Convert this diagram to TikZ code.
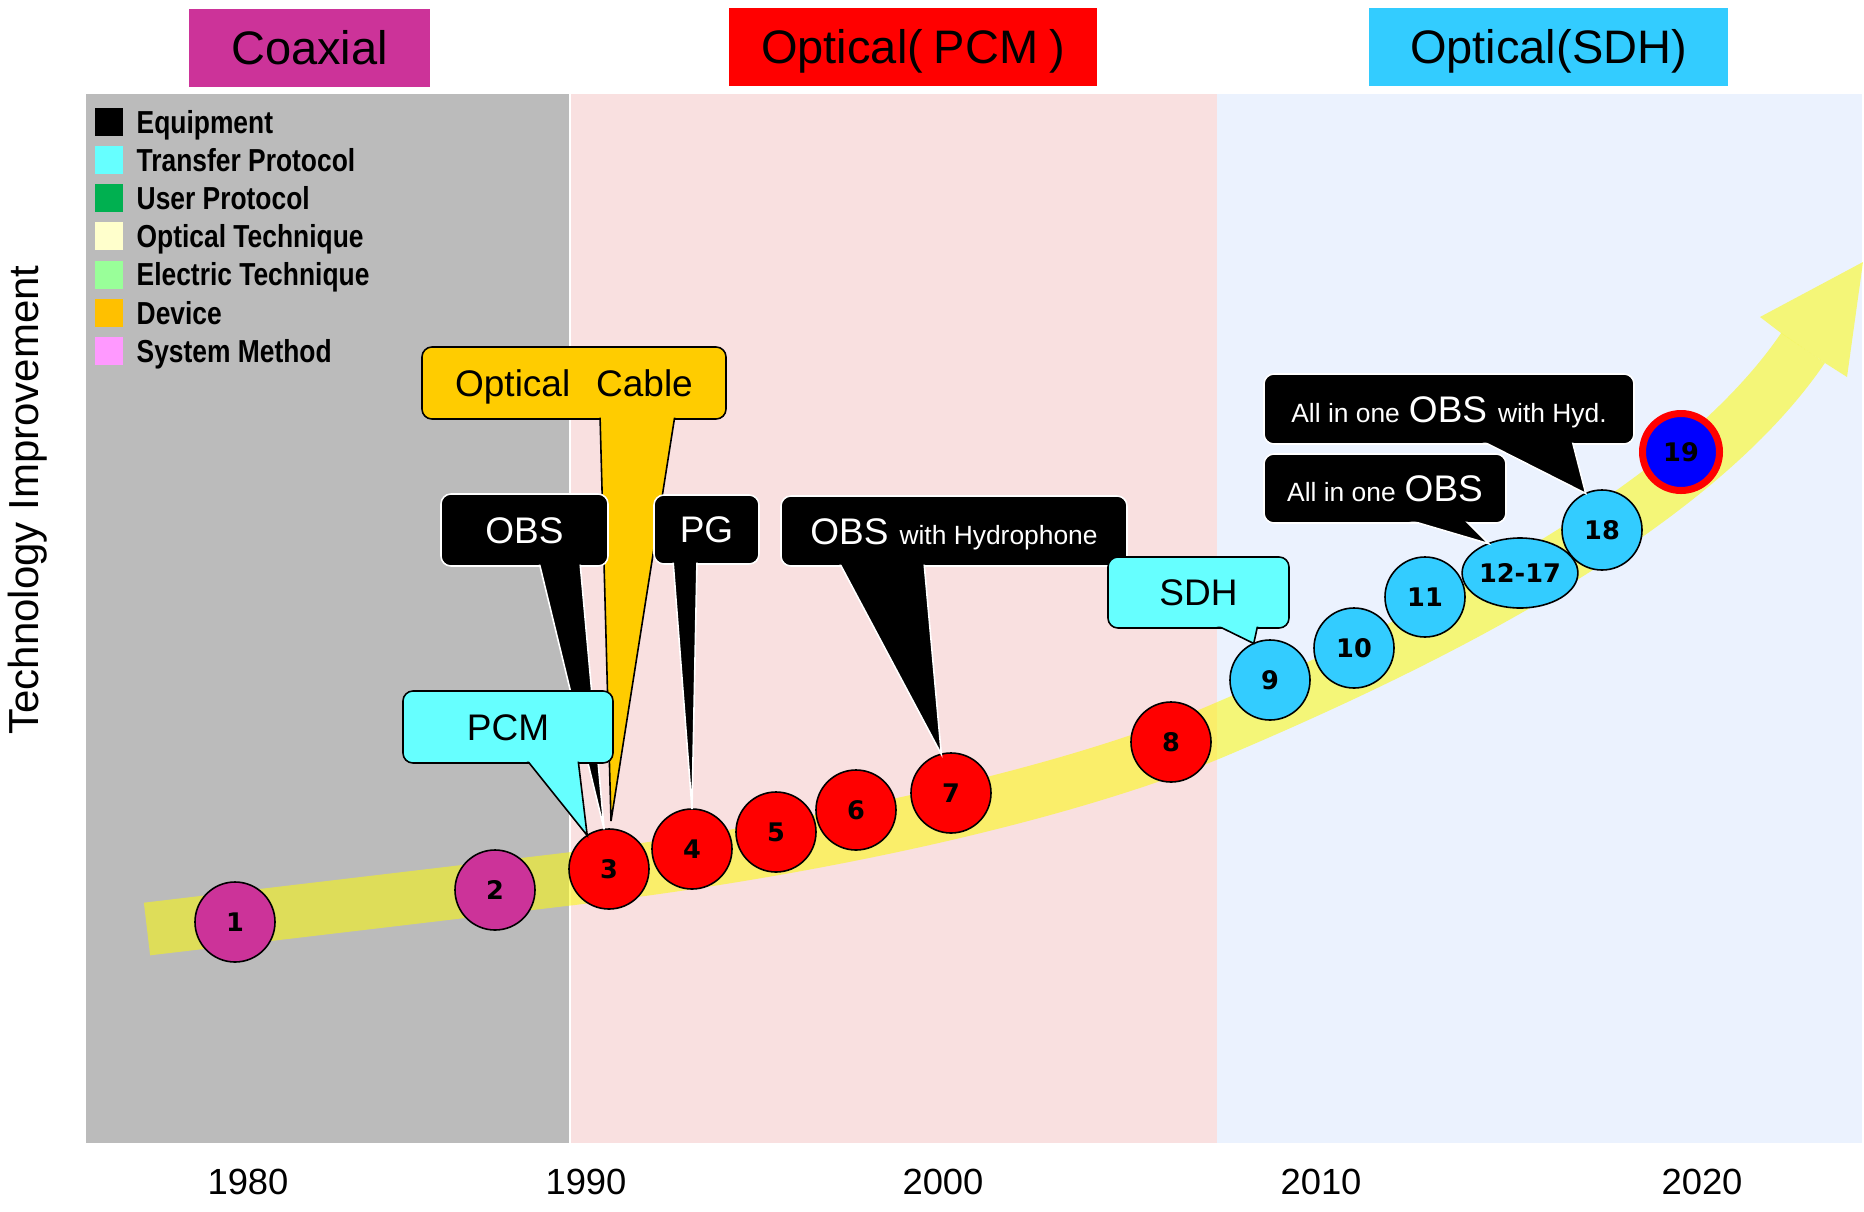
\documentclass[tikz,border=0pt]{standalone}
\usepackage{fontspec}
\setmainfont{Liberation Sans}
\newfontfamily\legendfont{Liberation Sans}[FakeStretch=0.83]
\newfontfamily\numfont{DejaVu Sans}
\usetikzlibrary{shapes.geometric,calc}
\definecolor{pgray}{HTML}{BBBBBB}
\definecolor{ppink}{HTML}{F9E0E0}
\definecolor{pblue}{HTML}{EBF2FE}
\definecolor{magc}{HTML}{CC3399}
\definecolor{redc}{HTML}{FF0000}
\definecolor{skyc}{HTML}{33CCFF}
\definecolor{cyanc}{HTML}{66FFFF}
\definecolor{cablec}{HTML}{FFCC00}
\definecolor{bandc}{HTML}{FCFA0A}
\definecolor{bluec}{HTML}{0000FF}
\definecolor{lgreen}{HTML}{00B050}
\definecolor{lcream}{HTML}{FFFFCC}
\definecolor{llgreen}{HTML}{99FF99}
\definecolor{lorange}{HTML}{FFC000}
\definecolor{lpink}{HTML}{FF99FF}
\newcommand{\mkpointer}[6]{%
  \filldraw[#2] ($(#1.south west)+(#4,-4)$) -- (#6) -- ($(#1.south west)+(#5,-4)$) -- cycle;
  \fill[#3, rounded corners=4pt] ($(#1.south west)+(1.5,-1.5)$) rectangle ($(#1.north east)+(-1.5,1.5)$);
}
\newcommand{\bigobs}{{\fontsize{18.5pt}{20pt}\selectfont OBS}}
\begin{document}
\begin{tikzpicture}[x=0.5pt, y=-0.5pt,
  every node/.style={inner sep=0pt, outer sep=0pt},
  titlebox/.style={rectangle, font=\fontsize{23.5pt}{26pt}\selectfont, text height=16.8pt, text depth=0pt, minimum height=39pt},
  circ/.style={circle, draw=black, line width=0.8pt, minimum size=40pt, font=\numfont\bfseries\fontsize{12.8pt}{14pt}\selectfont, text height=9.3pt, text depth=0pt},
  cblk/.style={rectangle, draw=white, fill=black, line width=0.8pt, rounded corners=5pt},
  cblkp/.style={draw=white, fill=black, line width=0.8pt},
  ccyan/.style={rectangle, draw=black, fill=cyanc, line width=0.8pt, rounded corners=5pt},
  ccyanp/.style={draw=black, fill=cyanc, line width=0.8pt},
  ccable/.style={rectangle, draw=black, fill=cablec, line width=0.8pt, rounded corners=5pt},
  ccablep/.style={draw=black, fill=cablec, line width=0.8pt},
  ctext/.style={font=\fontsize{18.5pt}{20pt}\selectfont, text height=13.2pt, text depth=0pt},
  stext/.style={font=\fontsize{13.2pt}{15pt}\selectfont, text height=13.2pt, text depth=0pt},
  legsq/.style={rectangle, minimum size=14pt},
  legtext/.style={anchor=west, font=\legendfont\bfseries\fontsize{15.9pt}{17pt}\selectfont, text height=11.4pt, text depth=0pt},
  year/.style={font=\fontsize{18.2pt}{20pt}\selectfont, text height=13pt, text depth=0pt}
]
\useasboundingbox (0,0) rectangle (1864,1211);
\fill[white] (0,0) rectangle (1864,1211);
% panels
\fill[pgray] (86,94) rectangle (569,1143);
\fill[ppink] (570.5,94) rectangle (1217,1143);
\fill[pblue] (1217,94) rectangle (1862,1143);
% titles
\node[titlebox, fill=magc, minimum width=120.5pt] (tcoax) at (309.5,48) {Coaxial};
\node[titlebox, fill=redc, minimum width=184pt] (tpcm) at (913,47) {Optical(\hspace{0.23em}PCM\hspace{0.23em})};
\node[titlebox, fill=skyc, minimum width=179.5pt] (tsdh) at (1548.5,47) {Optical(SDH)};
% axis label and years
\node[rotate=90, font=\fontsize{21pt}{23pt}\selectfont, text height=15pt, text depth=0pt] (ylab) at (24,500) {Technology Improvement};
\node[year] (y1980) at (248,1181) {1980};
\node[year] (y1990) at (586,1181) {1990};
\node[year] (y2000) at (943,1181) {2000};
\node[year] (y2010) at (1321,1181) {2010};
\node[year] (y2020) at (1702,1181) {2020};
% legend
\node[legsq, fill=black] (l1) at (109,122) {};
\node[legsq, fill=cyanc] (l2) at (109,160) {};
\node[legsq, fill=lgreen] (l3) at (109,198) {};
\node[legsq, fill=lcream] (l4) at (109,236) {};
\node[legsq, fill=llgreen] (l5) at (109,274.5) {};
\node[legsq, fill=lorange] (l6) at (109,313) {};
\node[legsq, fill=lpink] (l7) at (109,351) {};
\node[legtext] (t1) at (136.7,122) {Equipment};
\node[legtext] (t2) at (136.7,160) {Transfer Protocol};
\node[legtext] (t3) at (136.7,198) {User Protocol};
\node[legtext] (t4) at (136.7,236) {Optical Technique};
\node[legtext] (t5) at (136.7,274.5) {Electric Technique};
\node[legtext] (t6) at (136.7,313) {Device};
\node[legtext] (t7) at (136.7,351) {System Method};
% yellow band arrow
\draw[bandc, opacity=0.55, line width=26.5pt] (147,929) -- (569,879) .. controls (840,847) and (1080,789) .. (1217,731) .. controls (1417,646) and (1690,514) .. (1803,348);
\fill[bandc, opacity=0.55] (1863,262) -- (1760,317) -- (1781,333) -- (1825,363) -- (1847,377) -- cycle;
% circles
\node[circ, fill=magc] (c1) at (235,922) {1};
\node[circ, fill=magc] (c2) at (495,890) {2};
\node[circ, fill=redc] (c3) at (609,869) {3};
\node[circ, fill=redc] (c4) at (692,849) {4};
\node[circ, fill=redc] (c5) at (776,832) {5};
\node[circ, fill=redc] (c6) at (856,810) {6};
\node[circ, fill=redc] (c7) at (951,793) {7};
\node[circ, fill=redc] (c8) at (1171,742) {8};
\node[circ, fill=skyc] (c9) at (1270,680) {9};
\node[circ, fill=skyc] (c10) at (1354,648) {10};
\node[circ, fill=skyc] (c11) at (1425,597) {11};
\node[ellipse, draw=black, line width=0.8pt, fill=skyc, minimum width=55pt, minimum height=35pt, font=\numfont\bfseries\fontsize{12.8pt}{14pt}\selectfont, text height=9.3pt, text depth=0pt] (c12) at (1520,573) {12-17};
\node[circ, fill=skyc] (c18) at (1602,530) {18};
\node[circ, fill=bluec, draw=redc, line width=3.5pt, minimum size=38.5pt] (c19) at (1681,452) {19};
% Optical Cable callout
\node[ccable, minimum width=152pt, minimum height=36pt] (cable) at (574,383) {};
\mkpointer{cable}{ccablep}{cablec}{178}{253}{$(c3.north)+(2,-8)$}
\node[ctext] (cableT) at (cable) {Optical\hspace{0.7em}Cable};
% OBS callout
\node[cblk, minimum width=83.5pt, minimum height=36pt] (obs) at (524.5,530) {};
\mkpointer{obs}{cblkp}{black}{98}{139}{c3.97}
\node[ctext, text=white] (obsT) at (obs) {OBS};
% PG callout
\node[cblk, minimum width=52.5pt, minimum height=34.5pt] (pg) at (706.5,529.5) {};
\mkpointer{pg}{cblkp}{black}{19}{43}{c4.north}
\node[ctext, text=white] (pgT) at (pg) {PG};
% PCM callout
\node[ccyan, minimum width=105pt, minimum height=36pt] (pcm) at (508,727) {};
\mkpointer{pcm}{ccyanp}{cyanc}{123}{175}{c3.123}
\node[ctext] (pcmT) at (pcm) {PCM};
% OBS with Hydrophone
\node[cblk, minimum width=173pt, minimum height=35pt] (obsh) at (954,531) {};
\mkpointer{obsh}{cblkp}{black}{58}{143}{c7.104}
\node[stext, text=white] (obshT) at (obsh) {\bigobs\hspace{5.5pt}with Hydrophone};
% SDH callout
\node[ccyan, minimum width=90.5pt, minimum height=35.5pt] (sdh) at (1198.5,592.5) {};
\mkpointer{sdh}{ccyanp}{cyanc}{106}{150}{c9.114}
\node[ctext] (sdhT) at (sdh) {SDH};
% All in one OBS
\node[cblk, minimum width=121pt, minimum height=34.5pt] (aio) at (1385,488.5) {};
\mkpointer{aio}{cblkp}{black}{141}{200}{c12.137}
\node[stext, text=white] (aioT) at (aio) {All in one\hspace{4.5pt}\bigobs};
% All in one OBS with Hyd.
\node[cblk, minimum width=185pt, minimum height=35pt] (aioh) at (1449,409) {};
\mkpointer{aioh}{cblkp}{black}{216}{308}{c18.114}
\node[stext, text=white] (aiohT) at (aioh) {All in one\hspace{4.5pt}\bigobs\hspace{5.5pt}with Hyd.};
\end{tikzpicture}
\end{document}
